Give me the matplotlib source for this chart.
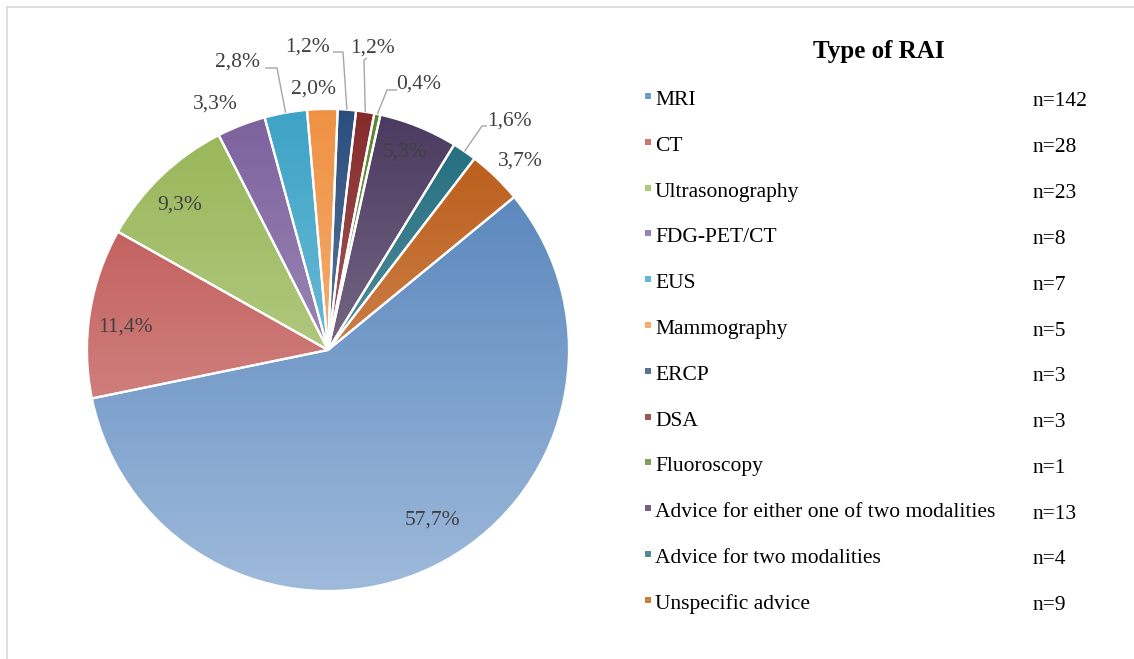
import numpy as np
import matplotlib
matplotlib.use("Agg")
import matplotlib.pyplot as plt
from matplotlib.colors import to_rgb
from matplotlib.patches import Rectangle
from matplotlib.lines import Line2D

# --- data ---
categories = ["MRI", "CT", "Ultrasonography", "FDG-PET/CT", "EUS", "Mammography",
              "ERCP", "DSA", "Fluoroscopy", "Advice for either one of two modalities",
              "Advice for two modalities", "Unspecific advice"]
counts = [142, 28, 23, 8, 7, 5, 3, 3, 1, 13, 4, 9]
colors = ["#4F81BD", "#C0504D", "#9BBB59", "#8064A2", "#3FA8CC", "#F79646",
          "#2C5082", "#8A2B2B", "#5F8A30", "#4D3B62", "#1F6E80", "#BF5A12"]

# --- layout (pixels of the 1134x659 canvas) ---
W, H = 1134, 659
CX, CY, R = 328, 350, 241
START = 39.4
# label centres
label_px = [(433, 520), (125, 327), (180, 205), (215, 104), (237, 62), (314, 89),
            (308, 47), (373, 48), (419, 84), (405, 152), (509, 121), (520, 161)]
# leader elbows (None = no leader line)
leader_px = [None, None, None, None, [(265, 68), (277, 68)], None,
             [(333, 52), (343, 52)], [(367, 58), (364, 60)], [(397, 90), (387, 90)],
             None, [(487, 126), (482, 126)], None]

serif = ["Liberation Serif", "DejaVu Serif"]


def to_data(px, py):
    return (px - CX) / R, (CY - py) / R


fig = plt.figure(figsize=(W / 100, H / 100), dpi=100)
ax = fig.add_axes([0, 0, 1, 1])

wedges, _ = ax.pie(counts, colors=colors, startangle=START, counterclock=False,
                   radius=1, wedgeprops=dict(edgecolor="white", linewidth=1.6))

# vertical gradient inside every slice (dark on top, light at the bottom)
t = np.linspace(0, 1, 256)[:, None, None]
for w, c in zip(wedges, colors):
    rgb = np.array(to_rgb(c))
    top = rgb * 0.97
    bot = rgb + (1 - rgb) * 0.45
    img = top * (1 - t) + bot * t
    im = ax.imshow(img, extent=(-1, 1, -1, 1), origin="upper", aspect="auto",
                   interpolation="bilinear", zorder=1)
    im.set_clip_path(w)
    w.set_facecolor("none")
    w.set_zorder(3)

ax.set_aspect("auto")
ax.set_xlim(-CX / R, (W - CX) / R)
ax.set_ylim(-(H - CY) / R, CY / R)
ax.axis("off")

# percentage labels
total = sum(counts)
theta = START
for i, n in enumerate(counts):
    span = n / total * 360
    mid = np.deg2rad(theta - span / 2)
    theta -= span
    txt = f"{n / total * 100:.1f}".replace(".", ",") + "%"
    lx, ly = to_data(*label_px[i])
    ax.text(lx, ly, txt, ha="center", va="center", fontsize=15.5, color="#404040",
            family=serif, zorder=5)
    if leader_px[i] is not None:
        pts = [to_data(*p) for p in leader_px[i]] + [(np.cos(mid), np.sin(mid))]
        xs, ys = zip(*pts)
        ax.plot(xs, ys, color="#a6a6a6", lw=1.0, zorder=4, solid_capstyle="butt")

# legend drawn by hand
fig.text(879 / W, 1 - 58 / H, "Type of RAI", ha="center", va="baseline",
         fontsize=18, fontweight="bold", family=serif, color="black")
for i, (cat, n, c) in enumerate(zip(categories, counts, colors)):
    base = 105 + 45.8 * i
    rgb = np.array(to_rgb(c))
    fig.patches.append(Rectangle(((645) / W, 1 - (base - 6) / H), 6 / W, 6 / H,
                                 transform=fig.transFigure,
                                 facecolor=rgb + (1 - rgb) * 0.2, edgecolor="none"))
    fig.text(655 / W, 1 - base / H, cat, ha="left", va="baseline", fontsize=15.5,
             family=serif, color="black")
    fig.text(1033 / W, 1 - (base + 1.5) / H, f"n={n}", ha="left", va="baseline",
             fontsize=15.5, family=serif, color="black")

# chart-area frame (only top and left edges are visible)
fig.lines.append(Line2D([7 / W, 1], [1 - 7 / H, 1 - 7 / H], transform=fig.transFigure,
                        color="#d9d9d9", lw=1.2))
fig.lines.append(Line2D([7 / W, 7 / W], [0, 1 - 7 / H], transform=fig.transFigure,
                        color="#d9d9d9", lw=1.2))

fig.savefig("out.png", dpi=100)
